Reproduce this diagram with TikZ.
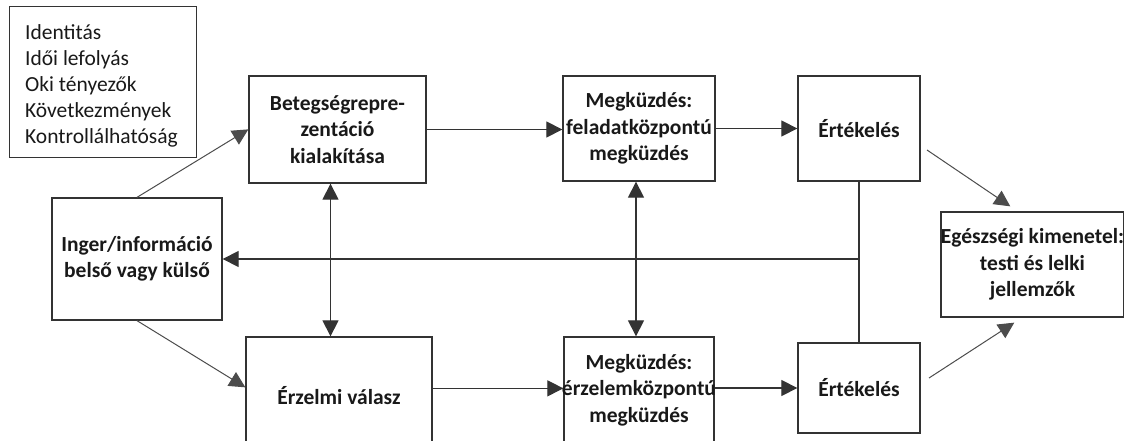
\documentclass[tikz,border=0pt]{standalone}
\usepackage{fontspec}
\setmainfont{Carlito}
\usetikzlibrary{arrows.meta,calc}
\newcommand\boxfont{\fontsize{21.5}{26.5}\selectfont\bfseries}
\newcommand\listfont{\fontsize{21.5}{26}\selectfont}
\begin{document}
\begin{tikzpicture}[x=1pt,y=-1pt,
  box/.style={draw=black!80, line width=1.3pt, fill=white, inner sep=0pt,
    align=center, font=\boxfont, text=black!90},
  link/.style={line width=1.2pt, draw=black!80},
  tip/.style={-{Triangle[length=16pt,width=16pt]}},
  arr/.style={link, tip},
  darr/.style={link, {Triangle[length=16pt,width=16pt]}-{Triangle[length=16pt,width=16pt]}},
  thin/.style={line width=1pt, draw=black!70, tip}]
\useasboundingbox (0,0) rectangle (1124,441);
\clip (0,0) rectangle (1124,441);

% list of the components
\node[draw=black!80, line width=1.3pt, inner sep=0pt,
  minimum width=187pt, minimum height=151pt, anchor=north west] (list) at (9,6) {};
\node[inner sep=0pt, align=left, font=\listfont, text=black!90, anchor=west]
  (listtext) at ($(list.west)+(16,4)$)
  {Identitás\\Idői lefolyás\\Oki tényezők\\Következmények\\Kontrollálhatóság};

% main boxes
\node[box, minimum width=177pt, minimum height=107pt] (bet) at (337.5,129.5)
  {Betegségrepre-\\zentáció\\kialakítása};
\node[box, minimum width=152pt, minimum height=105pt] (mf) at (639,128.5)
  {Megküzdés:\\feladatközpontú\\megküzdés};
\node[box, minimum width=122pt, minimum height=105pt] (e1) at (859,128.5)
  {Értékelés};
\node[box, minimum width=170pt, minimum height=122pt] (inger) at (137,259)
  {Inger/információ\\belső vagy külső};
\node[box, minimum width=186pt, minimum height=118pt] (erz) at (339,396)
  {Érzelmi válasz};
\node[box, minimum width=150pt, minimum height=106pt] (mb) at (639,390)
  {Megküzdés:\\\makebox[0pt]{érzelemközpontú}\\megküzdés};
\node[box, minimum width=122pt, minimum height=90pt] (e2) at (859,388)
  {Értékelés};
\node[box, minimum width=181pt, minimum height=105pt] (out) at (1032.5,264.5)
  {Egészségi kimenetel:\\testi és lelki\\jellemzők};

% connectors
\draw[thin] (inger.north) -- ($(bet.north west)+(0,54)$);
\draw[thin] (inger.south) -- ($(erz.north west)+(0,51)$);
\draw[arr] (bet.east) -- (bet.east -| mf.west);
\draw[arr] (mf.east) -- (mf.east -| e1.west);
\draw[arr] ($(erz.north east)+(0,52)$) -- ($(mb.north west)+(0,52)$);
\draw[arr] (mb.east |- e2.west) -- (e2.west);
\draw[darr] ($(bet.south)+(-7,0)$) coordinate (b1) -- (b1 |- erz.north);
\draw[darr] ($(mf.south)+(-3,0)$) coordinate (b2) -- (b2 |- mb.north);
\draw[link] (e1.south) -- (e2.north);
\draw[arr] (e1.south |- inger.east) -- (inger.east);
\coordinate (s1) at (927,150);
\coordinate (s2) at (929,378);
\draw[thin] (s1) -- ($(out.north west)+(70,-5)$);
\draw[thin] (s2) -- ($(out.south west)+(74,5)$);
\end{tikzpicture}
\end{document}
